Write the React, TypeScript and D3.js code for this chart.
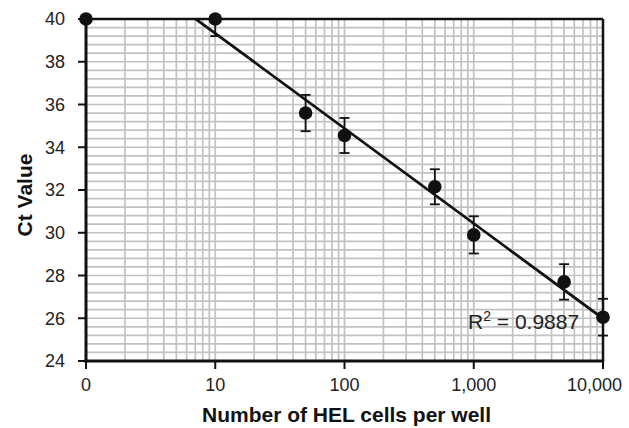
import React from "react";
import * as d3 from "d3";

const width = 629;
const height = 428;
const margin = { top: 19, right: 26, bottom: 67, left: 86 };

// HEL cells per well (the "0" well is plotted at 1 on the log axis)
const cells = [1, 10, 50, 100, 500, 1000, 5000, 10000];
const ctMean = [40, 40, 35.6, 34.55, 32.15, 29.9, 27.7, 26.05];
const ctErr = [0, 0.8, 0.85, 0.82, 0.82, 0.87, 0.83, 0.86];

const xTicks = [1, 10, 100, 1000, 10000];
const xTickLabels = ["0", "10", "100", "1,000", "10,000"];
const yTicks = [24, 26, 28, 30, 32, 34, 36, 38, 40];
const rSquared = "0.9887";

const font = "'Liberation Sans', Arial, sans-serif";

export default function App() {
  const x = d3
    .scaleLog()
    .domain([1, 10000])
    .range([margin.left, width - margin.right]);
  const y = d3
    .scaleLinear()
    .domain([24, 40])
    .range([height - margin.bottom, margin.top])
    .clamp(true);

  const points = cells.map((c, i) => ({ c, m: ctMean[i], e: ctErr[i] }));

  // log-linear least squares fit on the wells with cells
  const fitPts = points.filter(p => p.c >= 10);
  const mx = d3.mean(fitPts, p => Math.log10(p.c)) as number;
  const my = d3.mean(fitPts, p => p.m) as number;
  const sxy = d3.sum(fitPts, p => (Math.log10(p.c) - mx) * (p.m - my));
  const sxx = d3.sum(fitPts, p => (Math.log10(p.c) - mx) ** 2);
  const slope = sxy / sxx;
  const intercept = my - slope * mx;
  const yFree = y.copy().clamp(false);
  const trend = d3
    .line<number>()
    .x(d => x(d))
    .y(d => yFree(intercept + slope * Math.log10(d)));

  const x0 = margin.left;
  const x1 = width - margin.right;
  const y0 = margin.top;
  const y1 = height - margin.bottom;

  return (
    <svg
      width={width}
      height={height}
      style={{ position: "absolute", left: 0, top: 0, background: "#fff" }}
      fontFamily={font}
    >
      <defs>
        <clipPath id="plot">
          <rect x={x0} y={y0} width={x1 - x0} height={y1 - y0} />
        </clipPath>
      </defs>

      {/* grid */}
      {x.ticks().map((t, i) => (
        <line key={"vx" + i} x1={x(t)} x2={x(t)} y1={y0} y2={y1} stroke="#c2c2c2" strokeWidth={1.7} />
      ))}
      {d3.range(24.4, 40, 0.4).map((v, i) => (
        <line key={"hy" + i} x1={x0} x2={x1} y1={y(v)} y2={y(v)} stroke="#c2c2c2" strokeWidth={1.7} />
      ))}

      {/* frame */}
      <line x1={x0} x2={x1} y1={y0} y2={y0} stroke="#111" strokeWidth={2.5} />
      <line x1={x1} x2={x1} y1={y0} y2={y1} stroke="#111" strokeWidth={2.5} />
      <line x1={x0} x2={x0} y1={y0} y2={y1 + 1.5} stroke="#111" strokeWidth={3} />
      <line x1={x0 - 1.5} x2={x1 + 1.2} y1={y1} y2={y1} stroke="#111" strokeWidth={3} />

      {/* y ticks */}
      {yTicks.map(t => (
        <g key={"yt" + t}>
          <line x1={x0 - 8} x2={x0} y1={y(t)} y2={y(t)} stroke="#111" strokeWidth={2} />
          <text x={x0 - 21} y={y(t)} dy="0.36em" textAnchor="end" fontSize={18} fill="#222">
            {t}
          </text>
        </g>
      ))}

      {/* x ticks */}
      {xTicks.map((t, i) => (
        <g key={"xt" + t}>
          <line x1={x(t)} x2={x(t)} y1={y1} y2={y1 + 8} stroke="#111" strokeWidth={2} />
          <text
            x={i === xTicks.length - 1 ? width - 7 : x(t)}
            y={y1 + 30}
            textAnchor={i === xTicks.length - 1 ? "end" : "middle"}
            fontSize={18}
            fill="#222"
          >
            {xTickLabels[i]}
          </text>
        </g>
      ))}

      {/* trend line */}
      <path d={trend([1, 10000]) as string} clipPath="url(#plot)" fill="none" stroke="#111" strokeWidth={2.8} />

      {/* error bars */}
      {points
        .filter(p => p.e > 0)
        .map((p, i) => (
          <g key={"eb" + i} stroke="#111" strokeWidth={1.8}>
            <line x1={x(p.c)} x2={x(p.c)} y1={y(p.m + p.e)} y2={y(p.m - p.e)} />
            <line x1={x(p.c) - 5} x2={x(p.c) + 5} y1={y(p.m + p.e)} y2={y(p.m + p.e)} />
            <line x1={x(p.c) - 5} x2={x(p.c) + 5} y1={y(p.m - p.e)} y2={y(p.m - p.e)} />
          </g>
        ))}

      {/* points */}
      {points.map((p, i) => (
        <circle key={"pt" + i} cx={x(p.c)} cy={y(p.m)} r={6.8} fill="#111" />
      ))}

      {/* R squared */}
      <text x={468} y={329} fontSize={21} fill="#222">
        R<tspan dy="-8" fontSize={14}>2</tspan>
        <tspan dy="8"> = {rSquared}</tspan>
      </text>

      {/* axis titles */}
      <text
        x={(x0 + x1) / 2 + 2}
        y={height - 6}
        textAnchor="middle"
        fontSize={21}
        fontWeight="bold"
        fill="#111"
      >
        Number of HEL cells per well
      </text>
      <text
        transform={`translate(32,${(y0 + y1) / 2 + 5}) rotate(-90)`}
        textAnchor="middle"
        fontSize={21}
        fontWeight="bold"
        fill="#111"
      >
        Ct Value
      </text>
    </svg>
  );
}
